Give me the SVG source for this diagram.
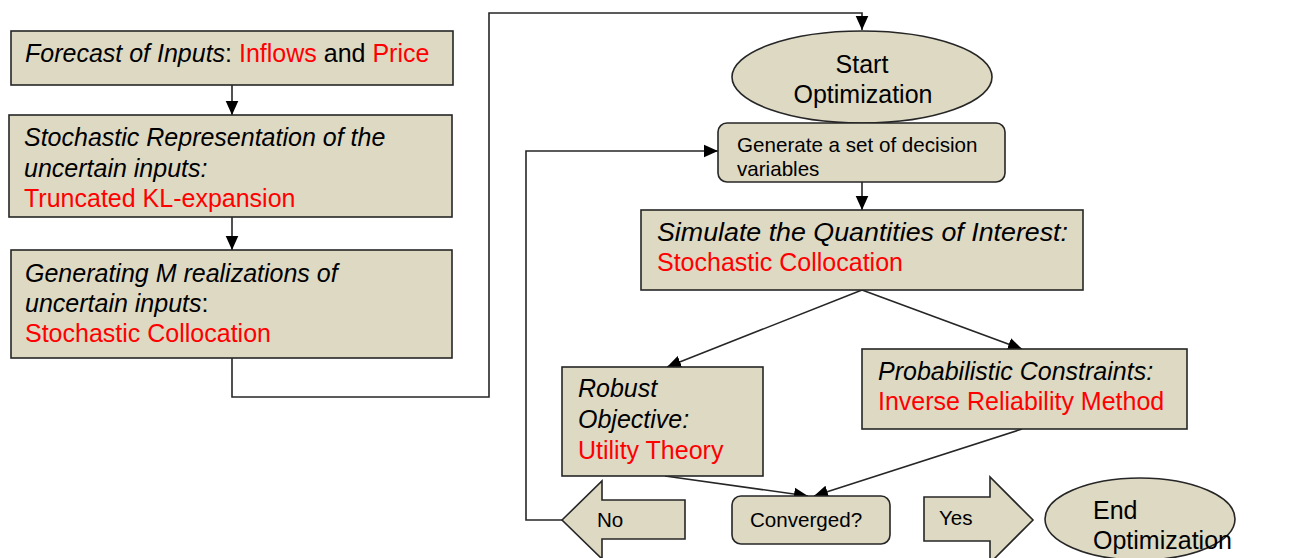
<svg xmlns="http://www.w3.org/2000/svg" width="1294" height="558" viewBox="0 0 1294 558">
<defs>
<style>
.box{fill:#ddd9c3;stroke:#262626;stroke-width:1.6}
.t{font-family:"Liberation Sans",Arial,sans-serif;font-size:25px;fill:#000}
.s{font-family:"Liberation Sans",Arial,sans-serif;font-size:20.6px;fill:#000}
.i{font-style:italic}
.r{fill:#ff0000}
.c{fill:none;stroke:#262626;stroke-width:1.6}
</style>
<marker id="ahb" viewBox="0 0 10 10" refX="10" refY="5" markerWidth="14" markerHeight="14" markerUnits="userSpaceOnUse" orient="auto">
<path d="M0,0.5 L10,5 L0,9.5 z" fill="#000"/>
</marker>
</defs>
<rect width="1294" height="558" fill="#fff"/>
<g id="connectors">
<path class="c" d="M232,85 V115" marker-end="url(#ahb)"/>
<path class="c" d="M232,217 V250" marker-end="url(#ahb)"/>
<path class="c" d="M232,358 V397 H489 V13 H862 V30" marker-end="url(#ahb)"/>
<path class="c" d="M862,182 V210" marker-end="url(#ahb)"/>
<path class="c" d="M862,290 L667,367" marker-end="url(#ahb)"/>
<path class="c" d="M862,290 L1022,349" marker-end="url(#ahb)"/>
<path class="c" d="M665,476 L808,496" marker-end="url(#ahb)"/>
<path class="c" d="M1022,429 L814,496" marker-end="url(#ahb)"/>
<path class="c" d="M562,520 H526 V151 H718" marker-end="url(#ahb)"/>
</g>
<g id="forecast">
<rect class="box" x="11" y="31" width="442" height="54"/>
<text class="t" x="25" y="62"><tspan class="i">Forecast of Inputs</tspan>: <tspan class="r">Inflows</tspan> and <tspan class="r">Price</tspan></text>
</g>
<g id="stochastic-representation">
<rect class="box" x="9" y="115" width="443" height="102"/>
<text class="t i" x="24" y="146">Stochastic Representation of the</text>
<text class="t i" x="24" y="177">uncertain inputs:</text>
<text class="t r" x="24" y="207">Truncated KL-expansion</text>
</g>
<g id="generating-realizations">
<rect class="box" x="11" y="250" width="441" height="108"/>
<text class="t i" x="25" y="282">Generating M realizations of</text>
<text class="t" x="25" y="312"><tspan class="i">uncertain inputs</tspan>:</text>
<text class="t r" x="25" y="342">Stochastic Collocation</text>
</g>
<g id="start">
<ellipse class="box" cx="862" cy="77" rx="130" ry="46"/>
<text class="t" x="862" y="73" text-anchor="middle">Start</text>
<text class="t" x="863" y="103" text-anchor="middle">Optimization</text>
</g>
<g id="generate">
<rect class="box" x="718" y="123" width="287" height="59" rx="9"/>
<text class="s" x="737" y="152">Generate a set of decision</text>
<text class="s" x="737" y="176">variables</text>
</g>
<g id="simulate">
<rect class="box" x="641" y="210" width="442" height="80"/>
<text class="t i" x="657" y="241" textLength="411" lengthAdjust="spacingAndGlyphs">Simulate the Quantities of Interest:</text>
<text class="t r" x="657" y="271">Stochastic Collocation</text>
</g>
<g id="robust">
<rect class="box" x="562" y="367" width="201" height="109"/>
<text class="t i" x="578" y="397">Robust</text>
<text class="t i" x="578" y="428">Objective:</text>
<text class="t r" x="578" y="459">Utility Theory</text>
</g>
<g id="probabilistic">
<rect class="box" x="862" y="349" width="325" height="80"/>
<text class="t i" x="878" y="380">Probabilistic Constraints:</text>
<text class="t r" x="878" y="410">Inverse Reliability Method</text>
</g>
<g id="converged">
<rect class="box" x="732" y="496" width="158" height="48" rx="9"/>
<text class="s" x="806" y="527" text-anchor="middle">Converged?</text>
</g>
<g id="no">
<polygon class="box" points="562,520 602,481 602,500 685,500 685,539 602,539 602,559"/>
<text class="s" x="597" y="527">No</text>
</g>
<g id="yes">
<polygon class="box" points="924,497 990,497 990,477 1033,520 990,563 990,541 924,541"/>
<text class="s" x="939" y="525">Yes</text>
</g>
<g id="end">
<ellipse class="box" cx="1140" cy="519" rx="95" ry="41"/>
<text class="t" x="1093" y="519">End</text>
<text class="t" x="1093" y="549">Optimization</text>
</g>
</svg>
